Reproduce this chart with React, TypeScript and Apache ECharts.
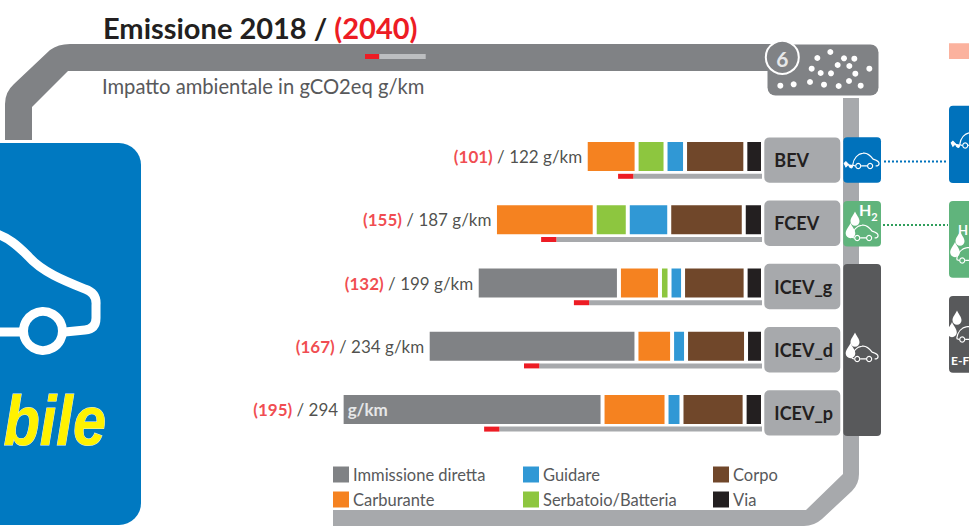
import React, { useEffect, useRef } from "react";
import * as echarts from "echarts";

const categories = ["BEV", "FCEV", "ICEV_g", "ICEV_d", "ICEV_p"];
const totals2018 = [122, 187, 199, 234, 294];
const values2040 = [101, 155, 132, 167, 195];
const immissione = [0, 0, 99.8, 146.5, 183.1];
const carburante = [35.7, 70, 28.8, 25, 44.9];
const serbatoio = [20.3, 23.2, 6.7, 0, 0];
const guidare = [13.7, 29.1, 9.5, 9.8, 10.5];
const corpo = [42.3, 52.3, 43.9, 42.1, 44.3];
const via = [12.4, 13.5, 12.2, 11.9, 12.9];
const redCap = 10.7;

const stackEnds = categories.map(
  (_, i) => immissione[i] + carburante[i] + serbatoio[i] + guidare[i] + corpo[i] + via[i]
);

const FONT = "Lato, 'Open Sans', sans-serif";
const PIPE_DARK = "#808285";
const PIPE_LIGHT = "#a7a9ac";
const RED = "#ed1c24";
const INK = "#231f20";

const G: any = echarts.graphic;
G.registerShape("pipeTop", G.extendPath("M5 140 L5 104 Q5 92 14 84 L50 50 Q58 44 70 44 L772 44 L772 71 L68 71 L32 107 L32 140 Z", {}));
G.registerShape("pipeBottom", G.extendPath("M843 98 L859 98 L859 474 Q859 484 852 491 L822 519 Q814 526 804 526 L333 526 L333 510 L806 510 L843 474 Z", {}));
G.registerShape("carBody", G.extendPath("M2 16 C3 8 8 3 14 2 C19 1 23 5 26 9 C29 10 33 11 33 14 C33 16 32 17 29 17 M19 17 L12 17 M5 17 L2 16", {}));
G.registerShape("drop", G.extendPath("M0 -10 C2 -5 6 -2 6 3 A6 6 0 1 1 -6 3 C-6 -2 -2 -5 0 -10 Z", {}));
G.registerShape("bigCar", G.extendPath("M-6 233 C8 237 18 246 28 256 C42 272 65 281 85 289 Q97 293 96 305 L96 318 Q96 329 85 330 L65 332 M-6 332 L21 332", {}));
G.registerShape("plug", G.extendPath("M2 16 C2 21 -2 20 -3 15 M-3 15 L-6 12 L-8 14 L-6 18 Z", {}));

const car = (x: number, y: number, s = 1) => ({
  type: "group",
  x,
  y,
  scaleX: s,
  scaleY: s,
  children: [
    { type: "carBody", z: 5, style: { fill: "none", stroke: "#fff", lineWidth: 1.4 } },
    { type: "circle", z: 5, shape: { cx: 8.5, cy: 17, r: 3 }, style: { fill: "none", stroke: "#fff", lineWidth: 1.4 } },
    { type: "circle", z: 5, shape: { cx: 22.5, cy: 17, r: 3 }, style: { fill: "none", stroke: "#fff", lineWidth: 1.4 } },
  ],
});
const drop = (x: number, y: number, s = 1) => ({
  type: "drop",
  z: 5,
  x,
  y,
  scaleX: s,
  scaleY: s,
  style: { fill: "#fff" },
});
const plug = (x: number, y: number, s = 1) => ({
  type: "plug",
  z: 5,
  x,
  y,
  scaleX: s,
  scaleY: s,
  style: { fill: "#fff", stroke: "#fff", lineWidth: 1.2 },
});

const dots = [
  [352, 174], [391, 156], [432, 175], [463, 176], [413, 195], [448, 198], [335, 206], [362, 219], [393, 220],
  [466, 221], [508, 206], [241, 257], [281, 253], [330, 246], [372, 254], [416, 258], [447, 243], [482, 257],
];

const barSeries = (name: string, data: any[], color: string) => ({
  name,
  type: "bar",
  stack: "total",
  barWidth: 33,
  data,
  itemStyle: { color, borderColor: "#fff", borderWidth: 2 },
});

export default function App() {
  const ref = useRef<HTMLDivElement>(null);
  useEffect(() => {
    const chart = echarts.init(ref.current!, null, { renderer: "svg" });
    const legendBase = {
      orient: "vertical",
      icon: "rect",
      itemWidth: 16,
      itemHeight: 16,
      itemGap: 8,
      padding: 0,
      itemStyle: { borderWidth: 0 },
      textStyle: { fontFamily: FONT, fontSize: 16.5, lineHeight: 16, color: "#58595b", padding: [0, 0, 0, -1] },
      selectedMode: false,
    };
    chart.setOption({
      animation: false,
      backgroundColor: "#fff",
      title: [
        {
          left: 103,
          top: 13,
          padding: 0,
          text: "{a|Emissione 2018 / }{b|(2040)}",
          textStyle: {
            rich: {
              a: { fontFamily: FONT, fontSize: 29, fontWeight: "bold", color: INK },
              b: { fontFamily: FONT, fontSize: 29, fontWeight: "bold", color: RED },
            },
          },
        },
        {
          left: 102,
          top: 76,
          padding: 0,
          text: "Impatto ambientale in gCO2eq g/km",
          textStyle: { fontFamily: FONT, fontSize: 20.2, fontWeight: "normal", color: "#58595b" },
        },
      ],
      legend: [
        { ...legendBase, left: 333, top: 466, data: ["Immissione diretta", "Carburante"] },
        { ...legendBase, left: 523, top: 466, data: ["Guidare", "Serbatoio/Batteria"] },
        { ...legendBase, left: 713, top: 466, data: ["Corpo", "Via"] },
      ],
      grid: [
        { left: 335.5, width: 427.5, top: 125, height: 316 },
        { left: 334.5, width: 427.5, top: 144.7, height: 316 },
        { left: 334.5, width: 427.5, top: 128.5, height: 316 },
      ],
      xAxis: [
        { type: "value", inverse: true, min: 0, max: 300, show: false },
        { type: "value", inverse: true, min: 0, max: 300, show: false, gridIndex: 1 },
        { type: "value", inverse: true, min: 0, max: 300, show: false, gridIndex: 2 },
      ],
      yAxis: [
        { type: "category", inverse: true, data: categories, show: false },
        { type: "category", inverse: true, data: categories, show: false, gridIndex: 1 },
        {
          type: "category",
          gridIndex: 2,
          inverse: true,
          position: "right",
          data: categories,
          axisLine: { show: false },
          axisTick: { show: false },
          axisLabel: {
            align: "left",
            margin: 2.3,
            width: 66,
            height: 45.4,
            lineHeight: 45.4,
            padding: [0, 0, 0, 10],
            borderRadius: 5,
            backgroundColor: PIPE_LIGHT,
            fontFamily: FONT,
            fontSize: 18,
            fontWeight: "bold",
            color: INK,
          },
        },
      ],
      graphic: [
        { type: "pipeTop", z: 1, style: { fill: PIPE_DARK } },
        { type: "pipeBottom", z: 1, style: { fill: PIPE_LIGHT } },
        { type: "rect", z: 2, shape: { x: 365, y: 54, width: 14.3, height: 5 }, style: { fill: RED } },
        { type: "rect", z: 2, shape: { x: 379.3, y: 54, width: 46.4, height: 5 }, style: { fill: "#bcbec0" } },
        // particulate box
        { type: "rect", z: 2, shape: { x: 767.5, y: 44.5, width: 111, height: 51, r: 8 }, style: { fill: PIPE_DARK } },
        { type: "circle", z: 3, shape: { cx: 782.3, cy: 57.3, r: 16.5 }, style: { fill: PIPE_DARK, stroke: "#fff", lineWidth: 2 } },
        {
          type: "text",
          z: 4,
          x: 782.3,
          y: 58,
          style: { text: "6", fontFamily: FONT, fontSize: 21, fontWeight: "bold", fill: "#e6e7e8", align: "center", verticalAlign: "middle" },
        },
        ...dots.map(([dx, dy]) => ({
          type: "circle",
          z: 4,
          shape: { cx: 700 + dx / 3, cy: dy / 3, r: 3 },
          style: { fill: "#fff" },
        })),
        // left panel
        { type: "rect", z: 2, shape: { x: -40, y: 143, width: 181, height: 382, r: 22 }, style: { fill: "#0079c1" } },
        { type: "bigCar", z: 3, style: { fill: "none", stroke: "#fff", lineWidth: 9, lineJoin: "round" } },
        { type: "circle", z: 3, shape: { cx: 43, cy: 331, r: 19.5 }, style: { fill: "none", stroke: "#fff", lineWidth: 9 } },
        {
          type: "text",
          z: 3,
          x: 106,
          y: 421,
          scaleX: 0.85,
          style: {
            text: "bile",
            fontFamily: "'Liberation Sans', sans-serif",
            fontSize: 70,
            fontWeight: "bold",
            fontStyle: "italic",
            fill: "#fff200",
            stroke: "#e6eef5",
            lineWidth: 1,
            align: "right",
            verticalAlign: "middle",
          },
        },
        // icon column
        { type: "rect", z: 2, shape: { x: 843.3, y: 137.3, width: 37.7, height: 45.4, r: 4 }, style: { fill: "#0072bc" } },
        { type: "rect", z: 2, shape: { x: 843.3, y: 201, width: 37.7, height: 45.4, r: 4 }, style: { fill: "#60b47c" } },
        { type: "rect", z: 2, shape: { x: 843.3, y: 264, width: 37.7, height: 172, r: 4 }, style: { fill: "#58595b" } },
        car(851, 151.5, 0.85),
        plug(851, 151.5, 0.85),
        car(850, 223.5, 0.85),
        drop(855, 219, 0.75),
        drop(850.5, 231, 0.8),
        {
          type: "text",
          z: 5,
          x: 859,
          y: 196,
          style: {
            text: "{h|H}{s|2}",
            rich: {
              h: { fontFamily: FONT, fontSize: 16, fontWeight: "bold", fill: "#fff", lineHeight: 18 },
              s: { fontFamily: FONT, fontSize: 11, fontWeight: "bold", fill: "#fff", verticalAlign: "bottom", lineHeight: 26 },
            },
          },
        },
        car(850, 344.5, 0.85),
        drop(855, 340, 0.75),
        drop(850.5, 351, 0.8),
        // connectors
        { type: "line", z: 2, shape: { x1: 884, y1: 161.5, x2: 948, y2: 161.5 }, style: { stroke: "#0072bc", lineWidth: 2, lineDash: [2, 2] } },
        { type: "line", z: 2, shape: { x1: 883, y1: 225, x2: 948, y2: 225 }, style: { stroke: "#2f9e5b", lineWidth: 2, lineDash: [2, 2] } },
        // right column (cut by the page edge)
        { type: "rect", z: 2, shape: { x: 949, y: 43.3, width: 40, height: 15.7 }, style: { fill: "#fbb29e" } },
        { type: "rect", z: 2, shape: { x: 949, y: 105.7, width: 40, height: 77.3, r: 4 }, style: { fill: "#0072bc" } },
        { type: "rect", z: 2, shape: { x: 949, y: 201, width: 40, height: 76.7, r: 4 }, style: { fill: "#60b47c" } },
        { type: "rect", z: 2, shape: { x: 949, y: 296, width: 40, height: 76.7, r: 4 }, style: { fill: "#58595b" } },
        car(958, 131, 0.85),
        plug(958, 131, 0.85),
        car(955, 246, 0.85),
        drop(960, 239, 0.75),
        drop(955, 250, 0.8),
        { type: "text", z: 5, x: 958, y: 223, style: { text: "H", fontFamily: FONT, fontSize: 13, fontWeight: "bold", fill: "#fff" } },
        car(955, 325, 0.85),
        drop(957, 318, 0.75),
        drop(952, 330, 0.8),
        { type: "text", z: 5, x: 951, y: 354, style: { text: "E-F", fontFamily: FONT, fontSize: 12, fontWeight: "bold", fill: "#fff" } },
      ],
      series: [
        barSeries("Via", via, "#231f20"),
        barSeries("Corpo", corpo, "#70472a"),
        barSeries("Guidare", guidare, "#3098d5"),
        barSeries("Serbatoio/Batteria", serbatoio, "#8dc63f"),
        barSeries("Carburante", carburante, "#f58220"),
        barSeries(
          "Immissione diretta",
          immissione.map((v, i) =>
            i === 4
              ? {
                  value: v,
                  label: {
                    show: true,
                    position: "insideLeft",
                    distance: 6,
                    formatter: "g/km",
                    fontFamily: FONT,
                    fontSize: 17,
                    fontWeight: "bold",
                    color: "#e6e7e8",
                  },
                }
              : v
          ),
          "#808285"
        ),
        {
          type: "scatter",
          symbolSize: 1,
          itemStyle: { color: "transparent" },
          silent: true,
          data: stackEnds.map((t, i) => [t, i]),
          label: {
            show: true,
            position: "left",
            distance: 3,
            formatter: (p: any) => {
              const i = p.dataIndex;
              const unit = i === 4 ? "" : " g/km";
              return `{r|(${values2040[i]})}{k| / ${totals2018[i]}${unit}}`;
            },
            rich: {
              r: { fontFamily: FONT, fontSize: 17, fontWeight: "bold", color: RED },
              k: { fontFamily: FONT, fontSize: 17, color: INK },
            },
          },
        },
        {
          type: "bar",
          stack: "thin",
          xAxisIndex: 1,
          yAxisIndex: 1,
          barWidth: 5,
          data: values2040.map((v) => v - redCap),
          itemStyle: { color: PIPE_LIGHT },
        },
        {
          type: "bar",
          stack: "thin",
          xAxisIndex: 1,
          yAxisIndex: 1,
          barWidth: 5,
          data: values2040.map(() => redCap),
          itemStyle: { color: RED },
        },
      ],
    });
    return () => chart.dispose();
  }, []);
  return <div ref={ref} style={{ width: 969, height: 528, position: "fixed", left: 0, top: 0 }} />;
}
